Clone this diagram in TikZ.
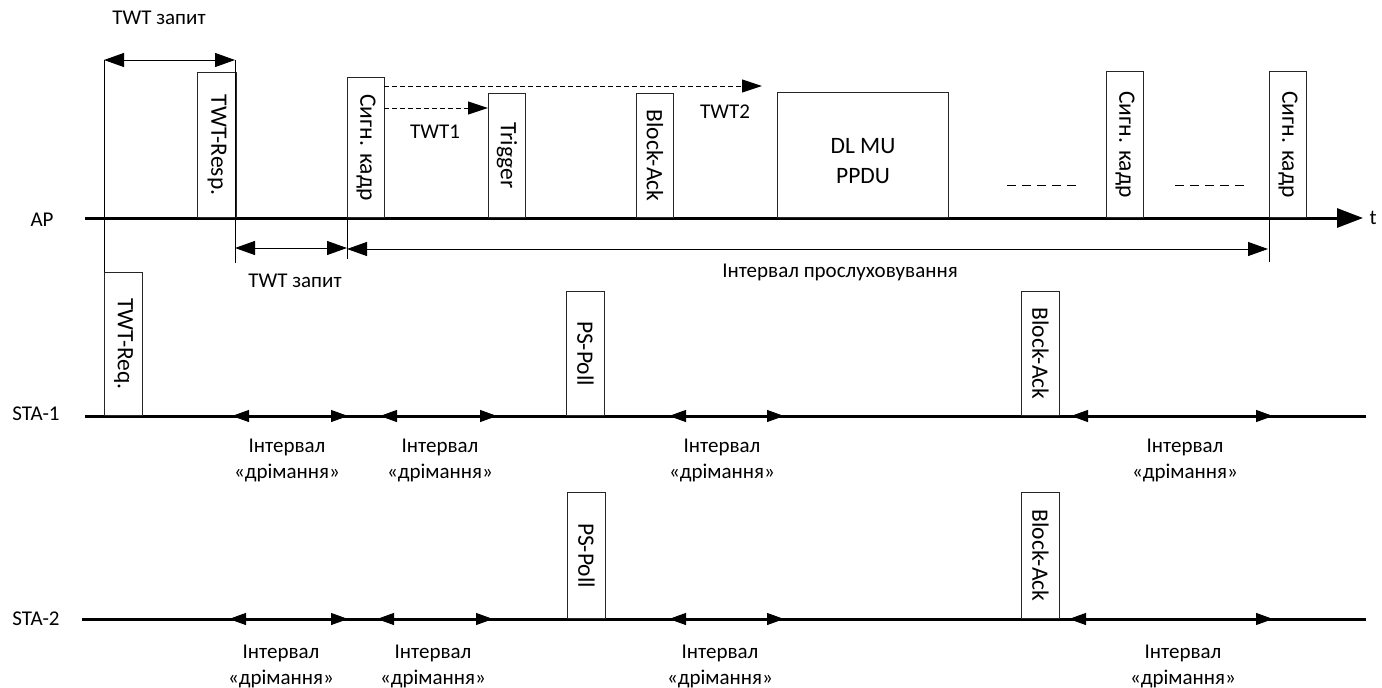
\documentclass[tikz,border=0pt]{standalone}
\usepackage{fontspec}
\setmainfont{Carlito}
\usetikzlibrary{arrows.meta,positioning}

\begin{document}
\begin{tikzpicture}[x=1pt,y=-1pt,
    every node/.style={font=\fontsize{21}{26}\selectfont},
    frame/.style={draw=black!85, line width=1pt, anchor=south west, inner sep=0pt},
    vtext/.style={rotate=-90, inner sep=0pt, font=\fontsize{23.5}{28}\selectfont},
    axis/.style={line width=3pt},
    span/.style={line width=1pt, {Triangle[length=20pt,width=14pt]}-{Triangle[length=20pt,width=14pt]}},
    sleep/.style={line width=1pt, {Triangle[length=17pt,width=12pt]}-{Triangle[length=17pt,width=12pt]}},
    wait/.style={line width=1pt, dash pattern=on 5pt off 3pt, -{Triangle[length=20pt,width=13pt]}},
    sleeplab/.style={align=center}]

    \useasboundingbox (0,0) rectangle (1382,688);

    % Time lines
    \coordinate (apL) at (85,218);
    \coordinate (apR) at (1363,218);
    \draw[axis, -{Triangle[length=26pt,width=19pt]}] (apL) -- (apR);
    \node[right=3pt of apR] (tlab) {t};
    \node (aplab) at (42,220) {AP};

    \coordinate (s1L) at (85,416);
    \coordinate (s1R) at (1366,416);
    \draw[axis] (s1L) -- (s1R);
    \node (sta1lab) at (36,414) {STA-1};

    \coordinate (s2L) at (82,619);
    \coordinate (s2R) at (1366,619);
    \draw[axis] (s2L) -- (s2R);
    \node (sta2lab) at (36,619) {STA-2};

    % Frames sent by the AP
    \node[frame, minimum width=39, minimum height=145] (resp) at (197,218) {};
    \node[vtext] (resptxt) at (resp) {TWT-Resp.};
    \node[frame, minimum width=37, minimum height=140] (sig1) at (347,218) {};
    \node[vtext] (sig1txt) at (sig1) {Сигн. кадр};
    \node[frame, minimum width=37, minimum height=124] (trig) at (488,218) {};
    \node[vtext] (trigtxt) at (trig) {Trigger};
    \node[frame, minimum width=37, minimum height=124] (back) at (636,218) {};
    \node[vtext] (backtxt) at (back) {Block-Ack};
    \node[frame, minimum width=171, minimum height=125] (ppdu) at (777,218) {};
    \node[align=center, font=\fontsize{23.5}{30}\selectfont] (ppdutxt)
        at ([yshift=-6pt]ppdu.center) {DL MU\\PPDU};
    \node[frame, minimum width=37, minimum height=146] (sig2) at (1106,218) {};
    \node[vtext] (sig2txt) at (sig2) {Сигн. кадр};
    \node[frame, minimum width=37, minimum height=146] (sig3) at (1269,218) {};
    \node[vtext] (sig3txt) at (sig3) {Сигн. кадр};

    % Frames sent by the stations
    \node[frame, minimum width=38, minimum height=143] (req) at (104,416) {};
    \node[vtext] (reqtxt) at (req) {TWT-Req.};
    \node[frame, minimum width=38, minimum height=124] (poll1) at (566,416) {};
    \node[vtext] (poll1txt) at (poll1) {PS-Poll};
    \node[frame, minimum width=38, minimum height=124] (ack1) at (1021,416) {};
    \node[vtext] (ack1txt) at (ack1) {Block-Ack};
    \node[frame, minimum width=38, minimum height=126] (poll2) at (567,619) {};
    \node[vtext] (poll2txt) at (poll2) {PS-Poll};
    \node[frame, minimum width=38, minimum height=126] (ack2) at (1021,619) {};
    \node[vtext] (ack2txt) at (ack2) {Block-Ack};

    % Guide lines
    \coordinate (g1) at (104,60);
    \coordinate (g2) at (235,60);
    \coordinate (g2b) at (235,263);
    \coordinate (g3b) at (347,259);
    \coordinate (g4b) at (1269,262);
    \draw[line width=1pt] (g1) -- (req.north west);
    \draw[line width=1pt] (g2) -- (g2b);
    \draw[line width=1pt] (sig1.south west) -- (g3b);
    \draw[line width=1pt] (sig3.south west) -- (g4b);

    % TWT request and listening intervals
    \draw[span] (g1) -- (g2);
    \node (twtq1) at (159,18) {TWT запит};
    \coordinate (q2a) at (235,248);
    \coordinate (q2b) at (347,248);
    \draw[span] (q2a) -- (q2b);
    \node (twtq2) at (295,281) {TWT запит};
    \coordinate (la) at (347,249);
    \coordinate (lb) at (1268,249);
    \draw[span] (la) -- (lb);
    \node (listen) at (840,272) {Інтервал прослуховування};

    % Target wake times
    \coordinate (t1a) at (384,108);
    \draw[wait] (t1a) -- (t1a -| trig.west);
    \node (twt1) at (435,132) {TWT1};
    \coordinate (t2a) at (384,86);
    \coordinate (t2b) at (762,86);
    \draw[wait] (t2a) -- (t2b);
    \node (twt2) at (725,112) {TWT2};

    % Skipped beacons
    \coordinate (d1a) at (1007,185);
    \coordinate (d1b) at (1076,185);
    \coordinate (d2a) at (1175,185);
    \coordinate (d2b) at (1244,185);
    \draw[line width=1pt, dash pattern=on 9pt off 6pt] (d1a) -- (d1b);
    \draw[line width=1pt, dash pattern=on 9pt off 6pt] (d2a) -- (d2b);

    % Doze intervals
    \foreach \a/\b/\c [count=\k] in {232/348/287, 380/497/440, 669/784/722, 1071/1273/1185}
    {
        \coordinate (z1\k a) at (\a,416);
        \coordinate (z1\k b) at (\b,416);
        \draw[sleep] (z1\k a) -- (z1\k b);
        \node[sleeplab] (zl1\k) at (\c,460) {Інтервал\\«дрімання»};
    }
    \foreach \a/\b/\c [count=\k] in {229/348/281, 377/493/433, 669/784/720, 1069/1273/1183}
    {
        \coordinate (z2\k a) at (\a,619);
        \coordinate (z2\k b) at (\b,619);
        \draw[sleep] (z2\k a) -- (z2\k b);
        \node[sleeplab] (zl2\k) at (\c,666) {Інтервал\\«дрімання»};
    }

\end{tikzpicture}
\end{document}
